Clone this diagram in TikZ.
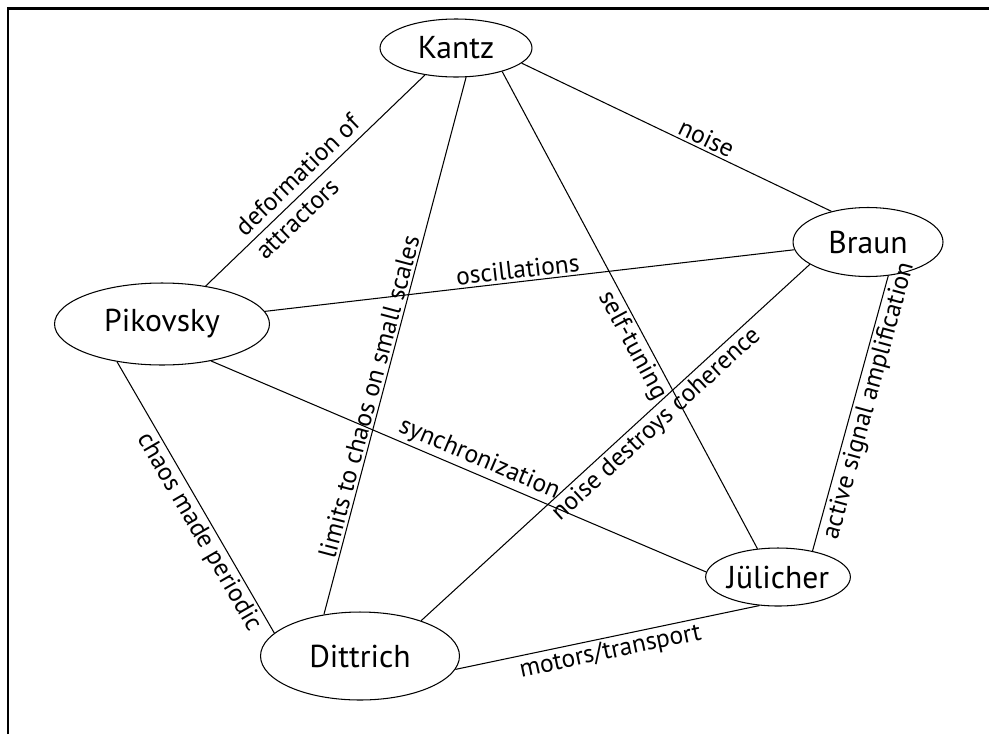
\documentclass[tikz,border=0pt]{standalone}
\usepackage{fontspec}
\setmainfont{PT Sans}
\usepackage{tikz}
\usetikzlibrary{shapes.geometric}

\begin{document}
\begin{tikzpicture}[x=0.02cm,y=-0.02cm]

	\tikzstyle person=[draw,ellipse,line width=.6pt,inner sep=0pt,font=\fontsize{18}{20}\selectfont];
	\tikzstyle link=[line width=.6pt];
	\tikzstyle topic=[sloped,inner sep=1.5pt,font=\fontsize{14.5}{17}\selectfont];

	\useasboundingbox (0,0) rectangle (989,734);
	\draw[line width=1.5pt] (8,734) -- (8,8.5) -- (989,8.5);

	\node[person,minimum width=3.04cm,minimum height=1.16cm] (kantz) at (456,48) {Kantz};
	\node[person,minimum width=3.0cm,minimum height=1.38cm] (braun) at (868,242) {Braun};
	\node[person,minimum width=4.3cm,minimum height=1.64cm] (pikovsky) at (162,324) {Pikovsky};
	\node[person,minimum width=2.32cm,minimum height=1.16cm] (juelicher) at (778,577) {Jülicher};
	\node[person,minimum width=3.98cm,minimum height=1.76cm] (dittrich) at (360,656) {Dittrich};

	\draw[link] (pikovsky.41) -- node[topic,pos=.47,above,inner sep=4pt] {deformation of} node[topic,pos=.37,below,inner sep=4pt] {attractors} (kantz.221);
	\draw[link] (dittrich.131) -- node[topic,pos=.4,above] {limits to chaos on small scales} (kantz.289);
	\draw[link] (kantz.333) -- node[topic,pos=.56,below] {self-tuning} (juelicher.126);
	\draw[link] (kantz.347) -- node[topic,pos=.58,above] {noise} (braun.140);
	\draw[link] (pikovsky.7) -- node[topic,pos=.48,above] {oscillations} (braun.186);
	\draw[link] (pikovsky.323) -- node[topic,pos=.53,above] {synchronization} (juelicher.176);
	\draw[link] (pikovsky.220) -- node[topic,pos=.6,below] {chaos made periodic} (dittrich.165);
	\draw[link] (dittrich.30) -- node[topic,pos=.58,below] {noise destroys coherence} (braun.201);
	\draw[link] (juelicher.37) -- node[topic,pos=.56,below] {active signal amplification} (braun.301);
	\draw[link] (dittrich.352) -- node[topic,pos=.5,below] {motors/transport} (juelicher.237);

\end{tikzpicture}
\end{document}
